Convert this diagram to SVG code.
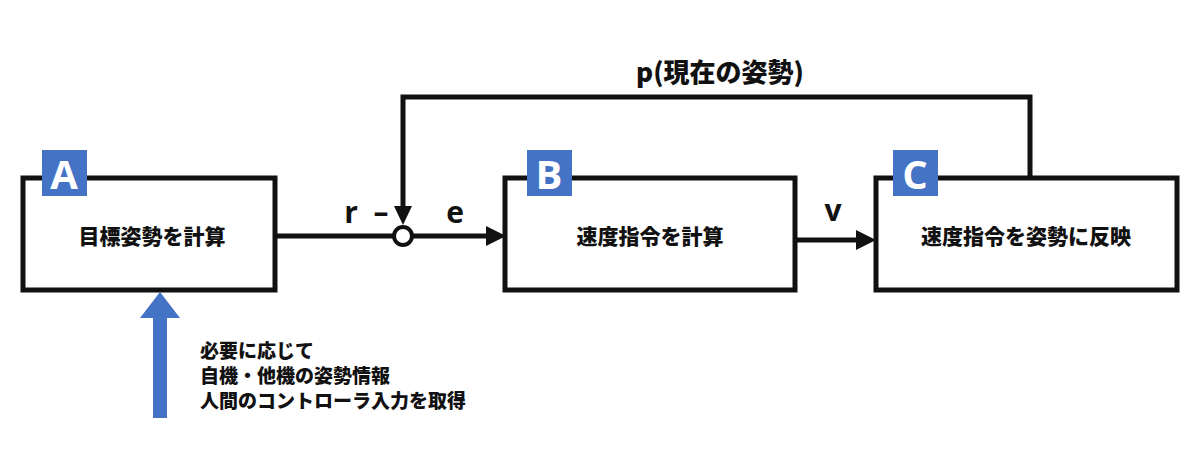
<svg xmlns="http://www.w3.org/2000/svg" width="1200" height="459" viewBox="0 0 1200 459">
<style>
.box{fill:#fff;stroke:#111;stroke-width:5}
.tag{fill:#4472c4}
.tagt{font-family:"Open Sans","Noto Sans",sans-serif;font-weight:bold;font-size:40px;fill:#fff;text-anchor:middle}
.lbl{font-family:"Noto Sans CJK JP",sans-serif;font-weight:900;font-size:21px;fill:#111;text-anchor:middle}
.sig{font-family:"Open Sans","Noto Sans CJK JP",sans-serif;font-weight:bold;font-size:30px;fill:#111;text-anchor:middle}
.note{font-family:"Noto Sans CJK JP",sans-serif;font-weight:900;font-size:19px;fill:#111}
.ln{fill:none;stroke:#111;stroke-width:5}
</style>
<rect width="1200" height="459" fill="#fff"/>
<g id="connectors">
<line class="ln" x1="275" y1="236" x2="394" y2="236"/>
<path class="ln" d="M412,236 H488"/><path d="M486,226 L506,236 L486,246z" fill="#111"/>
<path class="ln" d="M795,240 H858"/><path d="M856,230 L876,240 L856,250z" fill="#111"/>
<path class="ln" d="M1030,178 V97 H403 V208"/><path d="M394,206 L403,225 L412,206z" fill="#111"/>
<circle cx="403" cy="236" r="9" fill="#fff" stroke="#111" stroke-width="4"/>
<text class="sig" x="351" y="223">r</text>
<text class="sig" x="381" y="223">–</text>
<text class="sig" x="455" y="223">e</text>
<text class="sig" x="833" y="221">v</text>
<text class="lbl" x="720" y="82" style="font-size:26px">p(現在の姿勢)</text>
<path d="M153,418 V318 H140 L160,292 L180,318 H167 V418z" fill="#4472c4"/>
</g>
<g id="nodeA">
<rect class="box" x="23" y="178" width="252" height="112"/>
<rect class="tag" x="42" y="150" width="45" height="46"/>
<text class="tagt" x="64" y="189">A</text>
<text class="lbl" x="152" y="244">目標姿勢を計算</text>
</g>
<g id="nodeB">
<rect class="box" x="505" y="178" width="290" height="112"/>
<rect class="tag" x="527" y="150" width="45" height="46"/>
<text class="tagt" x="549" y="189">B</text>
<text class="lbl" x="650" y="244">速度指令を計算</text>
</g>
<g id="nodeC">
<rect class="box" x="876" y="178" width="301" height="112"/>
<rect class="tag" x="893" y="150" width="45" height="46"/>
<text class="tagt" x="915" y="189">C</text>
<text class="lbl" x="1026" y="244">速度指令を姿勢に反映</text>
</g>
<g id="note">
<text class="note" x="200" y="358">必要に応じて</text>
<text class="note" x="200" y="383">自機・他機の姿勢情報</text>
<text class="note" x="200" y="408">人間のコントローラ入力を取得</text>
</g>
</svg>
